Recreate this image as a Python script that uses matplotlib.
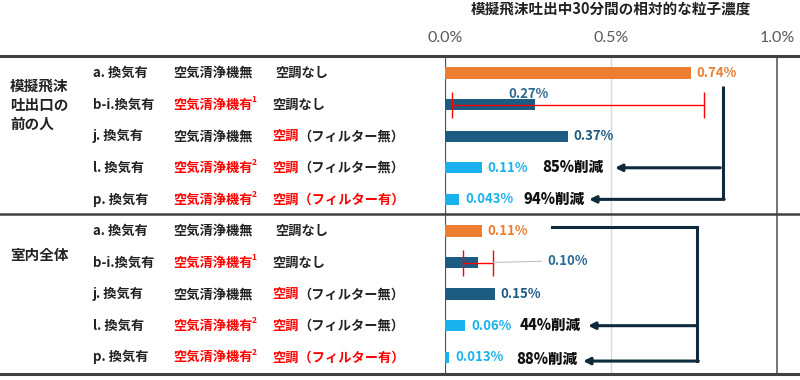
import matplotlib
matplotlib.use("Agg")
import matplotlib.pyplot as plt
import matplotlib.transforms as mtransforms
from matplotlib.lines import Line2D

plt.rcParams['font.family'] = ['Noto Sans CJK JP', 'DejaVu Sans']

# ---------------- data ----------------
col1 = ["a. 換気有", "b-i.換気有", "j. 換気有", "l. 換気有", "p. 換気有"]
col2 = ["空気清浄機無", "空気清浄機有", "空気清浄機無", "空気清浄機有", "空気清浄機有"]
col2_sup = ["", "1", "", "2", "2"]
col2_red = [False, True, False, True, True]
col3_main = ["空調なし", "空調なし", "空調", "空調", "空調（フィルター有）"]
col3_main_red = [False, False, True, True, True]
col3_tail = ["", "", "（フィルター無）", "（フィルター無）", ""]

groups = ["模擬飛沫\n吐出口の\n前の人", "室内全体"]
values_person = [0.74, 0.27, 0.37, 0.11, 0.043]
values_room = [0.11, 0.10, 0.15, 0.06, 0.013]
labels_person = ["0.74%", "0.27%", "0.37%", "0.11%", "0.043%"]
labels_room = ["0.11%", "0.10%", "0.15%", "0.06%", "0.013%"]
err_person = (0.02, 0.78)   # range for b-i
err_room = (0.054, 0.145)
reduction_person = ["85%削減", "94%削減"]
reduction_room = ["44%削減", "88%削減"]
xticks = [0.0, 0.5, 1.0]
xtick_labels = ["0.0%", "0.5%", "1.0%"]
title = "模擬飛沫吐出中30分間の相対的な粒子濃度"

ORANGE = "#ED7D31"
DARK = "#1D5C82"
LIGHT = "#1AB2EE"
bar_colors = [ORANGE, DARK, DARK, LIGHT, LIGHT]
RED = "#FF0000"
NAVY = "#0E2A3C"
GRAY_LINE = "#505050"

W, H = 800, 380
fig = plt.figure(figsize=(8, 3.8), dpi=100)
x0px, x1px = 445, 777
px_per = x1px - x0px
ax = fig.add_axes([x0px / W, 1 - 374 / H, (W - x0px) / W, (374 - 56) / H])
ax.set_xlim(0, (W - x0px) / px_per)
ax.set_ylim(9.53, -0.54)
for s in ax.spines.values():
    s.set_visible(False)
ax.set_yticks([])
ax.xaxis.tick_top()
ax.set_xticks(xticks)
ax.set_xticklabels(xtick_labels, color="#595959", fontsize=11.5, family="Lato")
ax.tick_params(axis='x', length=0, pad=8)

ax.axvline(0.0, color=GRAY_LINE, lw=1.6, zorder=1)
ax.axvline(0.5, color="#DADADA", lw=1.0, zorder=0)
ax.axvline(1.0, color=GRAY_LINE, lw=1.1, zorder=1)

bh = 0.36
y_person = list(range(5))
y_room = [5 + i for i in range(5)]
ax.barh(y_person, values_person, height=bh, color=bar_colors, zorder=2)
ax.barh(y_room, values_room, height=bh, color=bar_colors, zorder=2)

# error bars
for y, v, (lo, hi) in [(1, values_person[1], err_person), (6, values_room[1], err_room)]:
    ax.errorbar([v], [y], xerr=[[v - lo], [hi - v]], fmt='none', ecolor=RED,
                elinewidth=1.0, capsize=9.5, capthick=1.0, zorder=3)

# value labels
vfont = dict(fontsize=9.5, fontweight='bold')
for i, (v, lab) in enumerate(zip(values_person, labels_person)):
    c = bar_colors[i] if i != 1 else "#2D6A92"
    if i == 1:
        ax.annotate(lab, xy=(v, i), xytext=(-6, 11), textcoords='offset pixels',
                    ha='center', va='center', color=c, **vfont)
    else:
        ax.annotate(lab, xy=(v, i), xytext=(6, 0), textcoords='offset pixels',
                    ha='left', va='center', color=c, **vfont)
for i, (v, lab) in enumerate(zip(values_room, labels_room)):
    y = 5 + i
    c = bar_colors[i] if i != 1 else "#2D6A92"
    if i == 1:
        ax.annotate(lab, xy=(err_room[1], y), xytext=(54, 2), textcoords='offset pixels',
                    ha='left', va='center', color=c, **vfont,
                    arrowprops=dict(arrowstyle='-', color="#BFBFBF", lw=0.8,
                                    shrinkA=2, shrinkB=0))
    else:
        ax.annotate(lab, xy=(v, y), xytext=(6, 0), textcoords='offset pixels',
                    ha='left', va='center', color=c, **vfont)

# brackets and arrows
blw = 2.2
aprops = dict(arrowstyle='-|>', color=NAVY, lw=blw, shrinkA=0, shrinkB=0,
              mutation_scale=10)
# person group
vx = 0.837
ax.plot([vx, vx], [0.42, 4.0], color=NAVY, lw=blw, solid_capstyle='butt', zorder=4)
ax.annotate("", xy=(0.512, 3), xytext=(vx - 0.008, 3), arrowprops=aprops)
ax.annotate("", xy=(0.434, 4), xytext=(vx + 0.004, 4), arrowprops=aprops)
rfont = dict(fontsize=10.5, fontweight='heavy', color="#111111", ha='right', va='center')
ax.text(0.478, 3, reduction_person[0], **rfont)
ax.text(0.421, 4.0, reduction_person[1], **rfont)
# room group
vx2 = 0.759
ax.plot([0.322, vx2, vx2], [4.88, 4.88, 9.12], color=NAVY, lw=blw,
        solid_joinstyle='miter', zorder=4)
ax.annotate("", xy=(0.431, 8), xytext=(vx2, 8), arrowprops=aprops)
ax.annotate("", xy=(0.416, 9.12), xytext=(vx2 + 0.004, 9.12), arrowprops=aprops)
ax.text(0.408, 8, reduction_room[0], **rfont)
ax.text(0.399, 9.08, reduction_room[1], **rfont)

# title
ttrans = mtransforms.blended_transform_factory(ax.transData, fig.transFigure)
ax.text(0.5, 1 - 9 / H, title, transform=ttrans, ha='center', va='center',
        fontsize=10.5, fontweight='bold', color="#222222")

# separators
ltrans = mtransforms.blended_transform_factory(fig.transFigure, ax.transData)
for yy, lw in [(-0.54, 2.2), (4.46, 1.8), (9.53, 2.2)]:
    fig.add_artist(Line2D([0, 1], [yy, yy], transform=ltrans, color="#404040", lw=lw))

# left labels
lfont = dict(fontsize=9.5, fontweight='bold', va='center')
for g, yy in [(0, 1.0), (1, 5.75)]:
    fig.text(10 / W, yy, groups[g], transform=ltrans, fontsize=10.5, fontweight='bold',
             va='center', ha='left', linespacing=1.25, color="#222222")

for base in (0, 5):
    for i in range(5):
        y = base + i
        fig.text(93 / W, y, col1[i], transform=ltrans, color="#222222", ha='left', **lfont)
        t2 = fig.text(173 / W, y, col2[i], transform=ltrans,
                      color=RED if col2_red[i] else "#222222", ha='left', **lfont)
        if col2_sup[i]:
            ax.annotate(col2_sup[i], xy=(1, 0.55), xycoords=t2, xytext=(-1, 0),
                        textcoords='offset pixels', ha='left', va='bottom',
                        fontsize=6, fontweight='bold', color=RED)
        x3 = 275 if i == 0 else 272
        t3 = fig.text(x3 / W, y, col3_main[i], transform=ltrans,
                      color=RED if col3_main_red[i] else "#222222", ha='left', **lfont)
        if col3_tail[i]:
            ax.annotate(col3_tail[i], xy=(1, 0.5), xycoords=t3, ha='left', va='center',
                        fontsize=9.5, fontweight='bold', color="#222222")

fig.savefig("out.png", dpi=100)
